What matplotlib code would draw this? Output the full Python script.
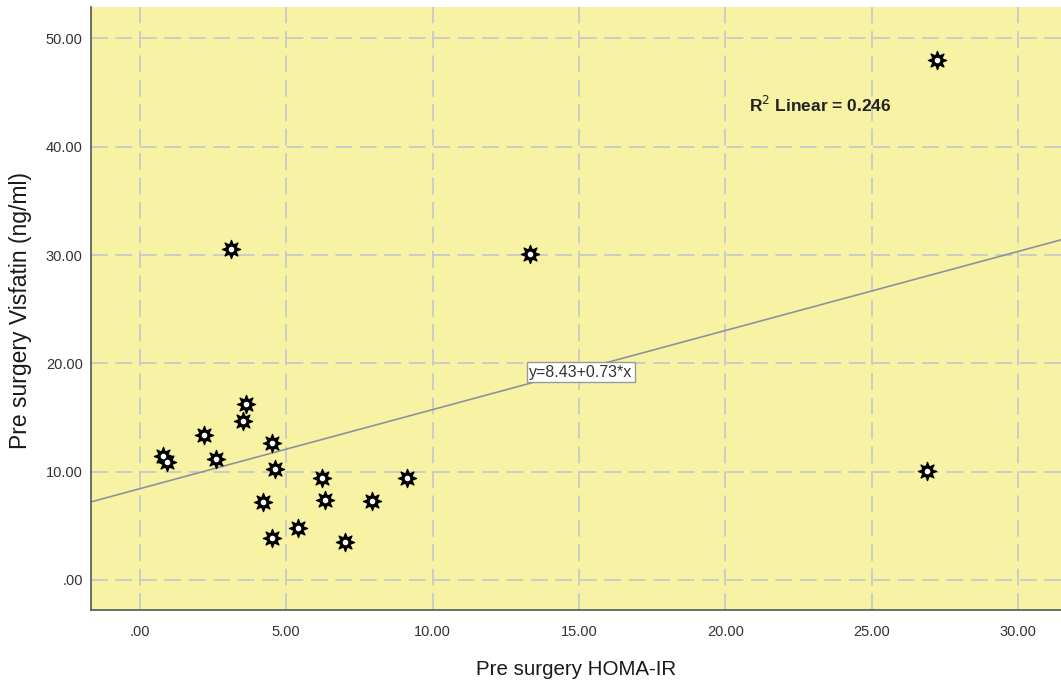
import numpy as np
import matplotlib
matplotlib.use("Agg")
import matplotlib.pyplot as plt
from matplotlib.ticker import FuncFormatter, MultipleLocator

plt.rcParams['font.family'] = ['Liberation Sans', 'DejaVu Sans']

# Pre surgery HOMA-IR vs Visfatin
homa = [27.24, 3.11, 13.33, 3.62, 3.52, 2.19, 0.79, 0.92, 2.60, 4.51,
        4.61, 6.22, 9.12, 26.90, 4.20, 6.32, 7.93, 5.40, 4.51, 7.00]
visfatin = [47.97, 30.60, 30.13, 16.27, 14.70, 13.40, 11.46, 10.90, 11.18, 12.66,
            10.26, 9.43, 9.43, 10.07, 7.20, 7.39, 7.30, 4.80, 3.88, 3.50]

intercept = 8.43
slope = 0.73
r2 = 0.246

fig = plt.figure(figsize=(10.61, 6.83), dpi=100)
ax = fig.add_axes([91 / 1061, 73 / 683, 970 / 1061, 603 / 683])
ax.set_facecolor('#f8f3a4')

xmin, xmax = -1.67, 31.47
ax.set_xlim(xmin, xmax)
ax.set_ylim(-2.77, 52.9)

ax.xaxis.set_major_locator(MultipleLocator(5))
ax.yaxis.set_major_locator(MultipleLocator(10))
fmt = FuncFormatter(lambda v, p: '.00' if abs(v) < 1e-9 else '%.2f' % v)
ax.xaxis.set_major_formatter(fmt)
ax.yaxis.set_major_formatter(fmt)
ax.tick_params(length=0, labelsize=10.5, labelcolor='#333333', pad=11)
ax.tick_params(axis='y', pad=6)

ax.grid(True, color='#bfc3cc', linestyle=(0, (11, 5)), linewidth=1.1)
ax.set_axisbelow(True)

for s in ['top', 'right']:
    ax.spines[s].set_visible(False)
for s in ['left', 'bottom']:
    ax.spines[s].set_color('#555555')
    ax.spines[s].set_linewidth(1.2)

# fit line
xs = np.array([xmin, xmax])
ax.plot(xs, intercept + slope * xs, color='#8c93a0', linewidth=1.2, zorder=2)

# gear-like markers with white centre
ax.scatter(homa, visfatin, marker=(8, 1, 0), s=170, color='black', zorder=3)
ax.scatter(homa, visfatin, marker='o', s=60, color='black', zorder=4)
ax.scatter(homa, visfatin, marker='o', s=9, color='white', zorder=5)

ax.text(15.07, 19.2, 'y=%.2f+%.2f*x' % (intercept, slope), fontsize=11.5,
        ha='center', va='center', color='#333333', zorder=6,
        bbox=dict(boxstyle='square,pad=0.15', facecolor='white', edgecolor='#999999'))
ax.text(20.8, 43.9, r'R$^2$ Linear = %.3f' % r2, fontsize=12.5, fontweight='bold',
        ha='left', va='center', color='#222222')

ax.set_xlabel('Pre surgery HOMA-IR', fontsize=14.8, color='#1a1a1a')
ax.set_ylabel('Pre surgery Visfatin (ng/ml)', fontsize=16.5, color='#1a1a1a')
ax.xaxis.set_label_coords(0.5, -0.083)
ax.yaxis.set_label_coords(-0.061, 0.4975)

fig.savefig('out.png', dpi=100)
